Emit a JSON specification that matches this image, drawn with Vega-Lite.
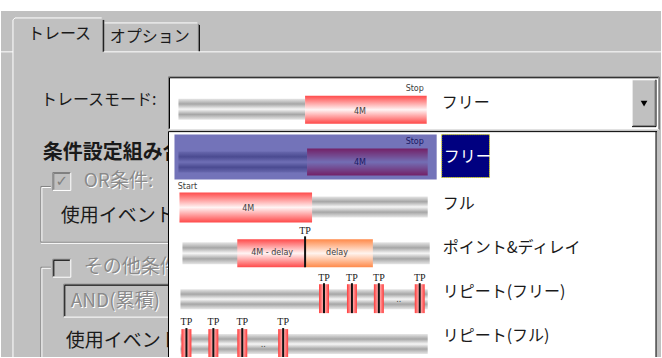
{
  "$schema": "https://vega.github.io/schema/vega-lite/v6.json",
  "width": 662,
  "height": 358,
  "autosize": {"type": "fit", "contains": "padding"},
  "padding": 0,
  "background": "#ffffff",
  "config": {"view": {"stroke": null}},
  "datasets": {
    "bg": [{"x": 0, "x2": 662, "y": 11, "y2": 358, "k": "panel"}],
    "lines1": [
      {"x": 12, "x2": 12, "y": 20, "y2": 358, "k": "white"},
      {"x": 14, "x2": 101, "y": 18, "y2": 18, "k": "white"},
      {"x": 12, "x2": 14, "y": 20, "y2": 18, "k": "white"},
      {"x": 102, "x2": 102, "y": 20, "y2": 52, "k": "mid"},
      {"x": 103, "x2": 103, "y": 20, "y2": 52, "k": "black"},
      {"x": 104, "x2": 197, "y": 23, "y2": 23, "k": "white"},
      {"x": 198, "x2": 198, "y": 24, "y2": 52, "k": "mid"},
      {"x": 199, "x2": 199, "y": 25, "y2": 52, "k": "black"},
      {"x": 103, "x2": 662, "y": 52, "y2": 52, "k": "white"},
      {"x": 0, "x2": 12, "y": 52, "y2": 52, "k": "white"},
      {"x": 40, "x2": 40, "y": 187, "y2": 243, "k": "mid"},
      {"x": 41, "x2": 41, "y": 188, "y2": 242, "k": "white"},
      {"x": 40, "x2": 50, "y": 187, "y2": 187, "k": "mid"},
      {"x": 41, "x2": 50, "y": 188, "y2": 188, "k": "white"},
      {"x": 40, "x2": 168, "y": 243, "y2": 243, "k": "mid"},
      {"x": 40, "x2": 168, "y": 244, "y2": 244, "k": "white"},
      {"x": 40, "x2": 40, "y": 268, "y2": 358, "k": "mid"},
      {"x": 41, "x2": 41, "y": 269, "y2": 358, "k": "white"},
      {"x": 40, "x2": 50, "y": 268, "y2": 268, "k": "mid"},
      {"x": 41, "x2": 50, "y": 269, "y2": 269, "k": "white"},
      {"x": 52, "x2": 70, "y": 173, "y2": 173, "k": "mid"},
      {"x": 52, "x2": 52, "y": 173, "y2": 191, "k": "mid"},
      {"x": 53, "x2": 69, "y": 174, "y2": 174, "k": "mid"},
      {"x": 53, "x2": 53, "y": 174, "y2": 190, "k": "mid"},
      {"x": 52, "x2": 70, "y": 191, "y2": 191, "k": "white"},
      {"x": 70, "x2": 70, "y": 173, "y2": 191, "k": "white"},
      {"x": 52, "x2": 70, "y": 260, "y2": 260, "k": "mid"},
      {"x": 52, "x2": 52, "y": 260, "y2": 278, "k": "mid"},
      {"x": 53, "x2": 69, "y": 261, "y2": 261, "k": "black"},
      {"x": 53, "x2": 53, "y": 261, "y2": 277, "k": "black"},
      {"x": 52, "x2": 70, "y": 278, "y2": 278, "k": "white"},
      {"x": 70, "x2": 70, "y": 260, "y2": 278, "k": "white"},
      {"x": 63, "x2": 175, "y": 285, "y2": 285, "k": "mid"},
      {"x": 64, "x2": 175, "y": 286, "y2": 286, "k": "black"},
      {"x": 63, "x2": 63, "y": 285, "y2": 318, "k": "mid"},
      {"x": 64, "x2": 64, "y": 286, "y2": 317, "k": "black"},
      {"x": 63, "x2": 175, "y": 318, "y2": 318, "k": "white"}
    ],
    "ltext16": [
      {"x": 27, "y": 34, "t": "トレース"},
      {"x": 109, "y": 37, "t": "オプション"},
      {"x": 40, "y": 100, "t": "トレースモード:"}
    ],
    "ltextbold": [
      {"x": 42, "y": 153, "t": "条件設定組み合わせ"}
    ],
    "ltext19": [
      {"x": 60, "y": 217, "t": "使用イベント"},
      {"x": 65, "y": 342, "t": "使用イベント"}
    ],
    "gtext": [
      {"x": 83, "y": 182, "t": "OR条件:"},
      {"x": 83, "y": 268, "t": "その他条件"},
      {"x": 70, "y": 302, "t": "AND(累積)"}
    ],
    "check": [{"x": 61, "y": 182, "t": "✓"}],
    "rects2": [
      {"x": 168, "x2": 660, "y": 78, "y2": 130, "k": "white"},
      {"x": 633, "x2": 657, "y": 80, "y2": 127, "k": "panel"},
      {"x": 168, "x2": 657, "y": 132, "y2": 358, "k": "white"}
    ],
    "lines2": [
      {"x": 168, "x2": 660, "y": 77, "y2": 77, "k": "mid"},
      {"x": 169, "x2": 659, "y": 78, "y2": 78, "k": "black"},
      {"x": 168, "x2": 168, "y": 77, "y2": 130, "k": "mid"},
      {"x": 169, "x2": 169, "y": 78, "y2": 129, "k": "black"},
      {"x": 660, "x2": 660, "y": 77, "y2": 130, "k": "dark"},
      {"x": 168, "x2": 660, "y": 130, "y2": 130, "k": "light"},
      {"x": 633, "x2": 656, "y": 80, "y2": 80, "k": "white"},
      {"x": 633, "x2": 633, "y": 80, "y2": 126, "k": "white"},
      {"x": 633, "x2": 657, "y": 127, "y2": 127, "k": "black"},
      {"x": 657, "x2": 657, "y": 80, "y2": 127, "k": "black"},
      {"x": 634, "x2": 656, "y": 126, "y2": 126, "k": "mid"},
      {"x": 656, "x2": 656, "y": 81, "y2": 126, "k": "mid"},
      {"x": 168, "x2": 658, "y": 132, "y2": 132, "k": "black"},
      {"x": 168, "x2": 168, "y": 132, "y2": 358, "k": "black"},
      {"x": 657, "x2": 657, "y": 132, "y2": 358, "k": "black"}
    ],
    "graybars": [
      {"x": 178, "x2": 305, "y": 99, "y2": 120},
      {"x": 178, "x2": 307, "y": 152, "y2": 173},
      {"x": 312, "x2": 428, "y": 197, "y2": 218},
      {"x": 182, "x2": 430, "y": 243, "y2": 265},
      {"x": 180, "x2": 428, "y": 290, "y2": 310},
      {"x": 180, "x2": 428, "y": 335, "y2": 355}
    ],
    "redbars": [
      {"x": 305, "x2": 427, "y": 96, "y2": 124},
      {"x": 307, "x2": 428, "y": 149, "y2": 176},
      {"x": 179, "x2": 312, "y": 193, "y2": 223},
      {"x": 237, "x2": 305, "y": 240, "y2": 268}
    ],
    "orangebars": [{"x": 305, "x2": 373, "y": 240, "y2": 268}],
    "markers": [
      {"x": 319, "x2": 329, "y": 285, "y2": 314},
      {"x": 347, "x2": 357, "y": 285, "y2": 314},
      {"x": 374, "x2": 384, "y": 285, "y2": 314},
      {"x": 415, "x2": 425, "y": 285, "y2": 314},
      {"x": 181, "x2": 191, "y": 330, "y2": 358},
      {"x": 208, "x2": 218, "y": 330, "y2": 358},
      {"x": 237, "x2": 247, "y": 330, "y2": 358},
      {"x": 278, "x2": 288, "y": 330, "y2": 358}
    ],
    "tplines": [
      {"x": 305, "x2": 305, "y": 237, "y2": 268},
      {"x": 324, "x2": 324, "y": 284, "y2": 314},
      {"x": 352, "x2": 352, "y": 284, "y2": 314},
      {"x": 379, "x2": 379, "y": 284, "y2": 314},
      {"x": 420, "x2": 420, "y": 284, "y2": 314},
      {"x": 186, "x2": 186, "y": 329, "y2": 358},
      {"x": 213, "x2": 213, "y": 329, "y2": 358},
      {"x": 242, "x2": 242, "y": 329, "y2": 358},
      {"x": 283, "x2": 283, "y": 329, "y2": 358}
    ],
    "smalltext": [
      {"x": 415, "y": 89, "t": "Stop"},
      {"x": 360, "y": 112, "t": "4M"},
      {"x": 415, "y": 142, "t": "Stop"},
      {"x": 360, "y": 163, "t": "4M"},
      {"x": 187, "y": 188, "t": "Start"},
      {"x": 248, "y": 210, "t": "4M"},
      {"x": 272, "y": 254, "t": "4M - delay"},
      {"x": 337, "y": 254, "t": "delay"},
      {"x": 399, "y": 301, "t": ".."},
      {"x": 263, "y": 346, "t": ".."}
    ],
    "tptext": [
      {"x": 305, "y": 232, "t": "TP"},
      {"x": 324, "y": 279, "t": "TP"},
      {"x": 352, "y": 279, "t": "TP"},
      {"x": 379, "y": 279, "t": "TP"},
      {"x": 420, "y": 279, "t": "TP"},
      {"x": 186, "y": 323, "t": "TP"},
      {"x": 213, "y": 323, "t": "TP"},
      {"x": 242, "y": 323, "t": "TP"},
      {"x": 283, "y": 323, "t": "TP"}
    ],
    "highlight": [{"x": 174, "x2": 437, "y": 135, "y2": 180}],
    "selbox": [{"x": 442, "x2": 490, "y": 135, "y2": 178}],
    "seltext": [{"x": 444, "y": 157, "t": "フリー"}],
    "listtext": [
      {"x": 442, "y": 103, "t": "フリー"},
      {"x": 443, "y": 205, "t": "フル"},
      {"x": 443, "y": 249, "t": "ポイント&ディレイ"},
      {"x": 443, "y": 293, "t": "リピート(フリー)"},
      {"x": 443, "y": 337, "t": "リピート(フル)"}
    ],
    "arrow": [{"x": 645, "y": 104}]
  },
  "encoding": {
    "x": {"field": "x", "type": "quantitative", "scale": {"domain": [0, 662], "nice": false, "zero": false}, "axis": null},
    "y": {"field": "y", "type": "quantitative", "scale": {"domain": [0, 358], "reverse": true, "nice": false, "zero": false}, "axis": null}
  },
  "layer": [
    {
      "data": {"name": "bg"},
      "mark": {"type": "rect"},
      "encoding": {
        "x2": {"field": "x2"}, "y2": {"field": "y2"},
        "color": {"field": "k", "type": "nominal", "legend": null,
          "scale": {"domain": ["panel", "white", "dark", "black", "mid", "light"], "range": ["#c0c0c0", "#ffffff", "#404040", "#000000", "#808080", "#dfdfdf"]}}
      }
    },
    {
      "data": {"name": "lines1"},
      "mark": {"type": "rule", "strokeWidth": 1},
      "encoding": {
        "x2": {"field": "x2"}, "y2": {"field": "y2"},
        "color": {"field": "k", "type": "nominal", "legend": null,
          "scale": {"domain": ["panel", "white", "dark", "black", "mid", "light"], "range": ["#c0c0c0", "#ffffff", "#404040", "#000000", "#808080", "#dfdfdf"]}}
      }
    },
    {
      "data": {"name": "ltext16"},
      "mark": {"type": "text", "align": "left", "baseline": "middle", "font": "Noto Sans CJK JP", "fontSize": 16, "fill": "#1a1a1a"},
      "encoding": {"text": {"field": "t"}}
    },
    {
      "data": {"name": "ltextbold"},
      "mark": {"type": "text", "align": "left", "baseline": "middle", "font": "Noto Sans CJK JP", "fontSize": 20, "fontWeight": "bold", "fill": "#1a1a1a"},
      "encoding": {"text": {"field": "t"}}
    },
    {
      "data": {"name": "ltext19"},
      "mark": {"type": "text", "align": "left", "baseline": "middle", "font": "Noto Sans CJK JP", "fontSize": 19, "fill": "#1a1a1a"},
      "encoding": {"text": {"field": "t"}}
    },
    {
      "data": {"name": "gtext"},
      "mark": {"type": "text", "align": "left", "baseline": "middle", "font": "Noto Sans CJK JP", "fontSize": 19, "fill": "#ffffff", "dx": 1, "dy": 1},
      "encoding": {"text": {"field": "t"}}
    },
    {
      "data": {"name": "gtext"},
      "mark": {"type": "text", "align": "left", "baseline": "middle", "font": "Noto Sans CJK JP", "fontSize": 19, "fill": "#8a8a8a"},
      "encoding": {"text": {"field": "t"}}
    },
    {
      "data": {"name": "check"},
      "mark": {"type": "text", "align": "center", "baseline": "middle", "font": "DejaVu Sans", "fontSize": 15, "fontWeight": "bold", "fill": "#808080"},
      "encoding": {"text": {"field": "t"}}
    },
    {
      "data": {"name": "rects2"},
      "mark": {"type": "rect"},
      "encoding": {
        "x2": {"field": "x2"}, "y2": {"field": "y2"},
        "color": {"field": "k", "type": "nominal", "legend": null,
          "scale": {"domain": ["panel", "white", "dark", "black", "mid", "light"], "range": ["#c0c0c0", "#ffffff", "#404040", "#000000", "#808080", "#dfdfdf"]}}
      }
    },
    {
      "data": {"name": "lines2"},
      "mark": {"type": "rule", "strokeWidth": 1},
      "encoding": {
        "x2": {"field": "x2"}, "y2": {"field": "y2"},
        "color": {"field": "k", "type": "nominal", "legend": null,
          "scale": {"domain": ["panel", "white", "dark", "black", "mid", "light"], "range": ["#c0c0c0", "#ffffff", "#404040", "#000000", "#808080", "#dfdfdf"]}}
      }
    },
    {
      "data": {"name": "graybars"},
      "mark": {"type": "rect", "fill": {"gradient": "linear", "x1": 0, "y1": 0, "x2": 0, "y2": 1,
        "stops": [{"offset": 0, "color": "#e6e6e6"}, {"offset": 0.25, "color": "#a6a6a6"}, {"offset": 0.5, "color": "#f6f6f6"}, {"offset": 0.75, "color": "#a6a6a6"}, {"offset": 1, "color": "#e6e6e6"}]}},
      "encoding": {"x2": {"field": "x2"}, "y2": {"field": "y2"}}
    },
    {
      "data": {"name": "redbars"},
      "mark": {"type": "rect", "fill": {"gradient": "linear", "x1": 0, "y1": 0, "x2": 0, "y2": 1,
        "stops": [{"offset": 0, "color": "#ff4a4a"}, {"offset": 0.5, "color": "#fff4f4"}, {"offset": 1, "color": "#ff4a4a"}]}},
      "encoding": {"x2": {"field": "x2"}, "y2": {"field": "y2"}}
    },
    {
      "data": {"name": "orangebars"},
      "mark": {"type": "rect", "fill": {"gradient": "linear", "x1": 0, "y1": 0, "x2": 0, "y2": 1,
        "stops": [{"offset": 0, "color": "#ff8a4a"}, {"offset": 0.5, "color": "#fff4ee"}, {"offset": 1, "color": "#ff8a4a"}]}},
      "encoding": {"x2": {"field": "x2"}, "y2": {"field": "y2"}}
    },
    {
      "data": {"name": "markers"},
      "mark": {"type": "rect", "fill": {"gradient": "linear", "x1": 0, "y1": 0, "x2": 1, "y2": 0,
        "stops": [{"offset": 0, "color": "#ff3a3a"}, {"offset": 0.5, "color": "#ffc8c8"}, {"offset": 1, "color": "#ff3a3a"}]}},
      "encoding": {"x2": {"field": "x2"}, "y2": {"field": "y2"}}
    },
    {
      "data": {"name": "tplines"},
      "mark": {"type": "rule", "strokeWidth": 2, "color": "#111111"},
      "encoding": {"x2": {"field": "x2"}, "y2": {"field": "y2"}}
    },
    {
      "data": {"name": "smalltext"},
      "mark": {"type": "text", "align": "center", "baseline": "middle", "font": "DejaVu Sans", "fontSize": 8, "fill": "#404040"},
      "encoding": {"text": {"field": "t"}}
    },
    {
      "data": {"name": "tptext"},
      "mark": {"type": "text", "align": "center", "baseline": "middle", "font": "Liberation Serif", "fontSize": 10, "fill": "#202020"},
      "encoding": {"text": {"field": "t"}}
    },
    {
      "data": {"name": "highlight"},
      "mark": {"type": "rect", "fill": "#000080", "opacity": 0.55},
      "encoding": {"x2": {"field": "x2"}, "y2": {"field": "y2"}}
    },
    {
      "data": {"name": "selbox"},
      "mark": {"type": "rect", "fill": "#000080", "stroke": "#e8e800", "strokeWidth": 1, "strokeDash": [1, 1]},
      "encoding": {"x2": {"field": "x2"}, "y2": {"field": "y2"}}
    },
    {
      "data": {"name": "seltext"},
      "mark": {"type": "text", "align": "left", "baseline": "middle", "font": "Noto Sans CJK JP", "fontSize": 16, "fill": "#ffffff"},
      "encoding": {"text": {"field": "t"}}
    },
    {
      "data": {"name": "listtext"},
      "mark": {"type": "text", "align": "left", "baseline": "middle", "font": "Noto Sans CJK JP", "fontSize": 16, "fill": "#1a1a1a"},
      "encoding": {"text": {"field": "t"}}
    },
    {
      "data": {"name": "arrow"},
      "mark": {"type": "point", "shape": "triangle-down", "filled": true, "size": 45, "color": "#000000", "opacity": 1},
      "encoding": {}
    }
  ]
}
